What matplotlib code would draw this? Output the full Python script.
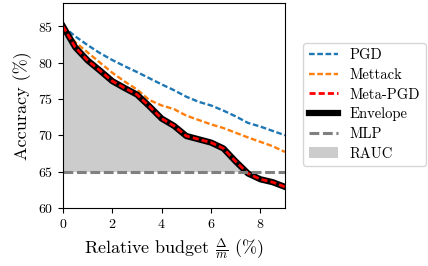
import numpy as np
import matplotlib
matplotlib.use('Agg')
from matplotlib import pyplot as plt

plt.rcParams['font.family'] = 'serif'
plt.rcParams['font.serif'] = ['cmr10', 'DejaVu Serif']
plt.rcParams['mathtext.fontset'] = 'cm'
plt.rcParams['axes.formatter.use_mathtext'] = True

budget = np.arange(0, 9.01, 0.5)
pgd = [85.0, 83.6, 82.4, 81.3, 80.35, 79.5, 78.7, 77.85, 77.0, 76.2,
       75.3, 74.6, 74.1, 73.4, 72.6, 71.7, 71.2, 70.6, 70.0]
mettack = [85.0, 82.8, 81.4, 80.0, 78.6, 77.4, 76.3, 74.85, 74.1, 73.6,
           72.7, 72.1, 71.5, 71.0, 70.35, 69.7, 69.1, 68.5, 67.7]
meta_pgd = [85.0, 82.1, 80.3, 78.9, 77.45, 76.5, 75.6, 74.0, 72.3, 71.3,
            69.9, 69.45, 69.0, 68.2, 66.4, 64.75, 63.95, 63.55, 62.9]
mlp = 65.0

# envelope = worst case over all attacks
envelope = np.minimum(np.minimum(pgd, mettack), meta_pgd)

fig = plt.figure(figsize=(4.28, 2.66), dpi=100)
ax = fig.add_axes([0.147, 0.218, 0.519, 0.771])

ax.fill_between(budget, mlp, envelope, where=envelope >= mlp, interpolate=True,
                color='#cccccc', lw=0, label='RAUC')
ax.plot(budget, pgd, ls=(0, (2.4, 1.1)), color='tab:blue', lw=1.7, label='PGD')
ax.plot(budget, mettack, ls=(0, (2.4, 1.1)), color='tab:orange', lw=1.7, label='Mettack')
ax.plot(budget, envelope, color='black', lw=4.5, label='Envelope')
ax.plot(budget, meta_pgd, ls=(0, (2.2, 1.1)), color='red', lw=2, label='Meta-PGD')
ax.axhline(mlp, ls=(0, (3.2, 1.2)), color='gray', lw=2.2, label='MLP')

ax.set_xlim(0, 9)
ax.set_ylim(60, 88.2)
ax.set_xticks([0, 2, 4, 6, 8])
ax.set_yticks([60, 65, 70, 75, 80, 85])
ax.tick_params(labelsize=10)
ax.set_xlabel(r'Relative budget $\frac{\Delta}{m}$ (%)', fontsize=13)
ax.set_ylabel('Accuracy (%)', fontsize=13)

# legend order as in the figure
h, l = ax.get_legend_handles_labels()
order = ['PGD', 'Mettack', 'Meta-PGD', 'Envelope', 'MLP', 'RAUC']
hs = [h[l.index(o)] for o in order]
fig.legend(hs, order, loc='upper left', bbox_to_anchor=(0.691, 0.866),
           fontsize=10.5, labelspacing=0.4, frameon=True)

fig.savefig('out.png', dpi=100)
